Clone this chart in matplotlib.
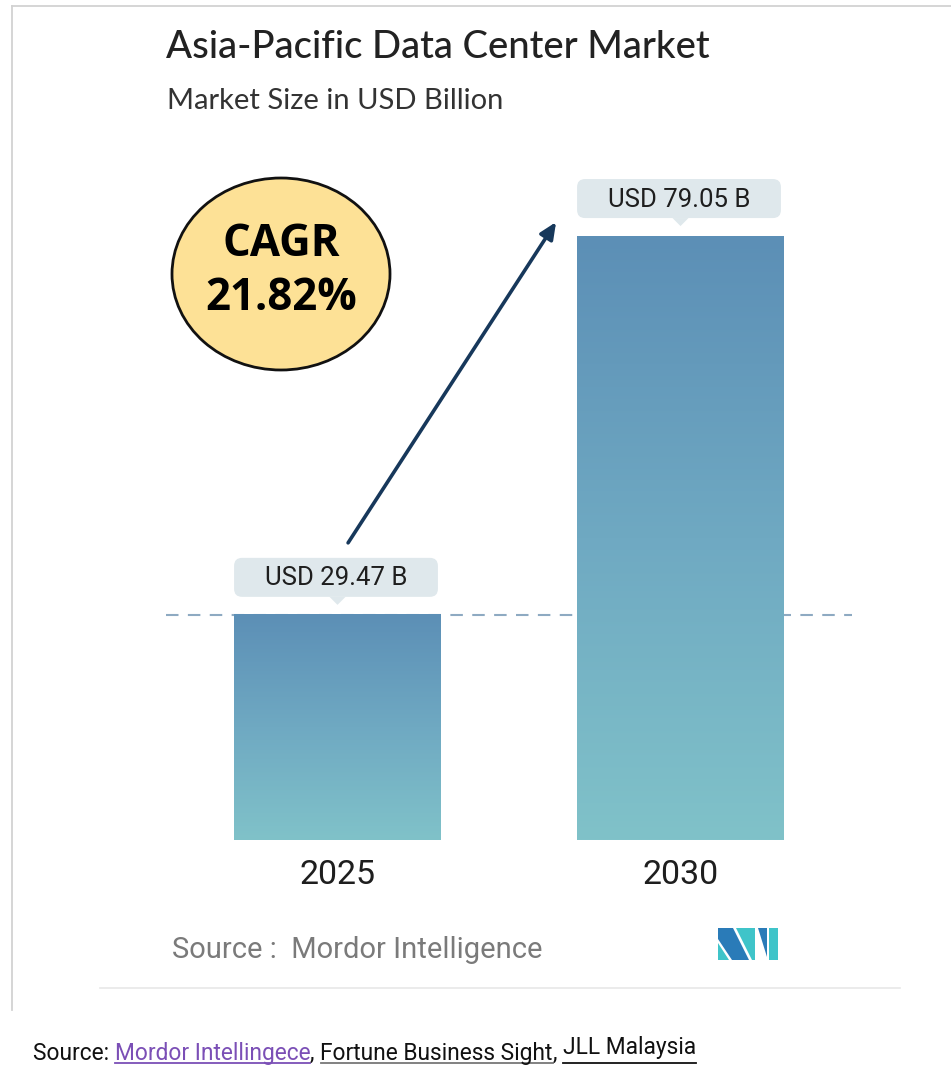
import numpy as np
import matplotlib.pyplot as plt
from matplotlib import font_manager
from matplotlib.colors import LinearSegmentedColormap
from matplotlib.patches import Ellipse, FancyBboxPatch, Polygon

# market size, USD billion
years = ["2025", "2030"]
sizes = [29.47, 79.05]
value_labels = ["USD 29.47 B", "USD 79.05 B"]
cagr_text = ["CAGR", "21.82%"]
title = "Asia-Pacific Data Center Market"
subtitle = "Market Size in USD Billion"
source_inner = "Source :  Mordor Intelligence"
source_parts = ["Source: ", "Mordor Intellingece", ", ", "Fortune Business Sight", ", ", "JLL Malaysia"]

fonts = font_manager.fontManager.ttflist
installed = {f.name for f in fonts}
NARROW = "Liberation Sans Narrow" if "Liberation Sans Narrow" in installed else "Roboto"


def bold_family(cands):
    for name in cands:
        if any(f.name == name and f.weight in (700, "bold") for f in fonts):
            return name
    return "DejaVu Sans"


BOLD = bold_family(["Noto Sans", "Open Sans", "Lato", "Roboto"])

W, H = 951, 1066
fig = plt.figure(figsize=(W / 100, H / 100), dpi=100)
fig.patch.set_facecolor("white")

# bar axes: baseline at 840 px, 7.64 px per billion
bot_px, ppu = 840, 7.64
ymax = 90
ax = fig.add_axes([166 / W, (H - bot_px) / H, 686 / W, ymax * ppu / H])
ax.set_facecolor("none")
for s in ax.spines.values():
    s.set_visible(False)
ax.set_yticks([])

bw = 0.603
grad = LinearSegmentedColormap.from_list("bar", ["#80c2c9", "#6fa9c2", "#5c8fb6"])
g = np.linspace(0, 1, 256).reshape(-1, 1)
for i, v in enumerate(sizes):
    ax.imshow(g, cmap=grad, extent=(i - bw / 2, i + bw / 2, 0, v), origin="lower",
              aspect="auto", zorder=2)
ax.axhline(sizes[0], color="#8eaac2", lw=1.5, ls=(0, (6, 4.5)), zorder=1)
ax.set_xlim(-0.5, 1.5)
ax.set_ylim(0, ymax)
ax.set_xticks(range(len(years)), years, fontsize=24.5, family=NARROW, color="#1e1e1e")
ax.tick_params(axis="x", length=0, pad=14)

# overlay in pixel units for annotations
ov = fig.add_axes([0, 0, 1, 1], zorder=3)
ov.set_xlim(0, W)
ov.set_ylim(H, 0)
ov.axis("off")
ov.patch.set_alpha(0)


def to_px(x, y):
    return ov.transData.inverted().transform(ax.transData.transform((x, y)))


# frame lines
ov.plot([12, W], [6, 6], color="#d2d2d2", lw=1.3)
ov.plot([12, 12], [6, 1010], color="#d2d2d2", lw=1.3)
ov.plot([100, 900], [988, 988], color="#e8e8e8", lw=1.2)

ov.text(166, 47, title, fontsize=27.5, family="Lato", weight="medium", color="#222222",
        va="center")
ov.text(167, 101, subtitle, fontsize=21, family="Lato", color="#333333", va="center")

# value callouts above each bar
boxes = []
for i, v in enumerate(sizes):
    left, top = to_px(i - bw / 2, v)
    right, _ = to_px(i + bw / 2, v)
    bb, bt = top - 18, top - 57
    ov.add_patch(FancyBboxPatch((left, bt), right - 3 - left, bb - bt,
                                boxstyle="round,pad=0,rounding_size=8",
                                fc="#dfe8ec", ec="none"))
    cx = (left + right) / 2
    ov.add_patch(Polygon([[cx - 8, bb], [cx + 8, bb], [cx, bb + 8]], closed=True,
                         fc="#dfe8ec", ec="none"))
    ov.text((left + right - 3) / 2, (bb + bt) / 2 + 1, value_labels[i], fontsize=18.5,
            family=NARROW, color="#1e1e1e", ha="center", va="center")
    boxes.append((left, bt, right, bb))

# growth arrow
l0, t0, _, _ = boxes[0]
l1, _, _, b1 = boxes[1]
ov.annotate("", xy=(l1 - 21, b1 + 4), xytext=(l0 + 114, t0 - 15),
            arrowprops=dict(arrowstyle="-|>,head_length=1.0,head_width=0.45",
                            color="#17385b", lw=2.6, shrinkA=0, shrinkB=0))

ov.add_patch(Ellipse((281, 274), 218, 192, fc="#fde196", ec="#111111", lw=2))
ov.text(281, 245, cagr_text[0], fontsize=31.5, family=BOLD, weight="bold",
        color="#000000", ha="center", va="center")
ov.text(281, 298, cagr_text[1], fontsize=31.5, family=BOLD, weight="bold",
        color="#000000", ha="center", va="center")

ov.text(172, 950, source_inner, fontsize=21, family=NARROW, color="#7a7a7a", va="center")

# logo
lx, ly = 718, 928
logo = [
    ([(0, 0), (15, 0), (31, 32), (14, 32), (0, 11)], "#2a7bb8"),
    ([(0, 15), (0, 32), (11, 32)], "#3fc4c9"),
    ([(18, 0), (37, 0), (37, 32), (34, 32)], "#3fc4c9"),
    ([(40, 0), (49, 0), (49, 29)], "#2a7bb8"),
    ([(51, 0), (60, 0), (60, 32), (51, 32)], "#3fc4c9"),
]
for pts, c in logo:
    ov.add_patch(Polygon([(lx + px, ly + py) for px, py in pts], closed=True, fc=c, ec="none"))

# source line with link-style underlines
renderer = fig.canvas.get_renderer()
x = 33
styles = [("#111111", None, 0), ("#7b4fb6", "#7b4fb6", 0), ("#111111", None, 0),
          ("#111111", "#777777", 0), ("#111111", None, 0), ("#111111", "#111111", -6)]
for part, (col, ul, dy) in zip(source_parts, styles):
    t = ov.text(x, 1060 + dy, part, fontsize=16.4, family=NARROW, color=col, va="baseline")
    wpx = t.get_window_extent(renderer).width
    if ul:
        ov.plot([x, x + wpx], [1063, 1063], color=ul, lw=1.3)
    x += wpx

fig.savefig("out.png", dpi=100)
